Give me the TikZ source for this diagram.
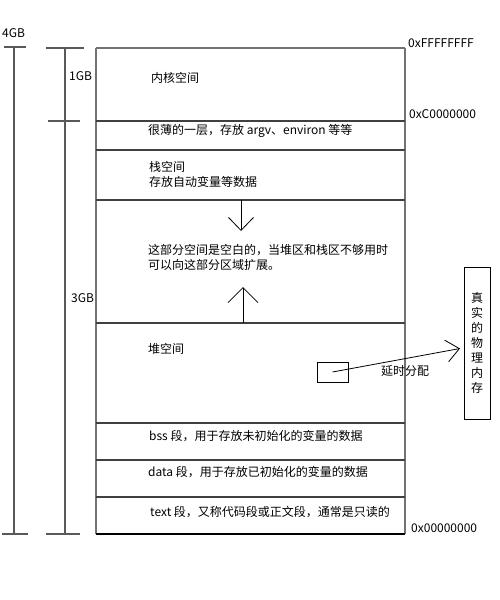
\documentclass[tikz,border=0pt]{standalone}
\usepackage{fontspec}
\setmainfont{Noto Sans CJK SC}
\usetikzlibrary{arrows.meta}
\begin{document}
\begin{tikzpicture}[x=1pt,y=-1pt,
  every node/.style={inner sep=0pt,font=\fontsize{12}{15}\selectfont},
  lbl/.style={anchor=west},
  edge/.style={draw=black!55,line width=1.2pt},
  divider/.style={draw=black!75,line width=1.4pt},
  axis/.style={draw=black!65,line width=1.1pt},
  arrdown/.style={-{Straight Barb[length=13pt,width=25pt]},line width=0.8pt},
  arrup/.style={-{Straight Barb[length=15pt,width=30pt]},line width=0.8pt},
  arrside/.style={-{Straight Barb[length=13pt,width=22pt]},line width=0.8pt},
  memfill/.style={draw,line width=0.9pt}]
\useasboundingbox (0,0) rectangle (500,600);
% outer box
\draw[edge] (96,48) -- (405,48);
\draw[edge] (96,48) -- (96,534);
\draw[edge] (405,48) -- (405,534);
\draw[draw=black,line width=1.2pt] (96,534) -- (405,534);
\foreach \yy in {121,150,200,323,423,460,497}
  \draw[divider] (96,\yy) -- (405,\yy);
% axes
\draw[axis] (14,47) -- (14,534);
\draw[axis] (4,47) -- (26,47);
\draw[axis] (2,534) -- (28,534);
\draw[axis] (65,48) -- (65,534);
\draw[axis] (46,48) -- (84,48);
\draw[axis] (48,121) -- (80,121);
\draw[axis] (46,534) -- (80,534);
\node[lbl] (g4) at (2,33.5) {4GB};
\node[lbl] (g1) at (69,76.5) {1GB};
\node[lbl] (g3) at (71,298.5) {3GB};
% addresses
\node[lbl] (aF) at (408,43) {0xFFFFFFFF};
\node[lbl] (aC) at (409,114) {0xC0000000};
\node[lbl] (a0) at (411,528.6) {0x00000000};
% segment texts
\node[lbl] (kernel) at (151,78) {内核空间};
\node[lbl] (thin) at (148,131) {很薄的一层，存放 argv、environ 等等};
\node[lbl,align=left] (stack) at (149,174.5) {栈空间\\存放自动变量等数据};
\node[lbl,align=left] (gap) at (148,257) {这部分空间是空白的，当堆区和栈区不够用时\\可以向这部分区域扩展。};
\node[lbl] (heap) at (148,348.5) {堆空间};
\node[lbl] (bss) at (149,436) {bss 段，用于存放未初始化的变量的数据};
\node[lbl] (data) at (148,472) {data 段，用于存放已初始化的变量的数据};
\node[lbl] (text) at (150,512) {text 段，又称代码段或正文段，通常是只读的};
% growth arrows
\coordinate (stackbot) at (241,200);
\coordinate (downtip) at (241,231);
\draw[arrdown] (stackbot) -- (downtip);
\coordinate (heaptop) at (243,323);
\coordinate (uptip) at (243,287);
\draw[arrup] (heaptop) -- (uptip);
% delayed allocation
\node[draw,line width=0.8pt,minimum width=31pt,minimum height=20pt] (alloc) at (332.5,372) {};
\node[memfill,minimum width=26pt,minimum height=152pt,align=center,
  font=\fontsize{12}{15}\selectfont] (mem) at (477,343) {真\\实\\的\\物\\理\\内\\存};
\coordinate (memtip) at (460,348.5);
\draw[arrside] (alloc.center) -- (memtip);
\node[lbl] (delay) at (381,371) {延时分配};
\end{tikzpicture}
\end{document}
